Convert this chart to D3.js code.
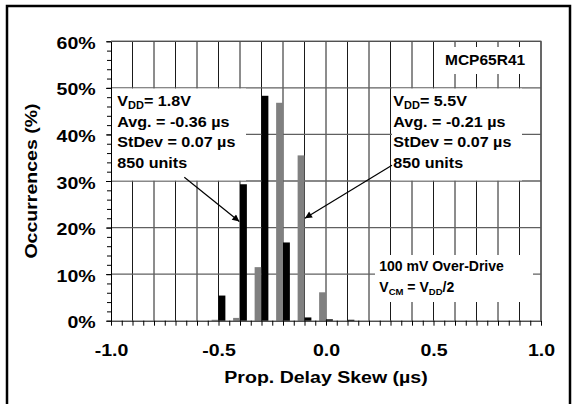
<!DOCTYPE html>
<html>
<head>
<meta charset="utf-8">
<script src="https://cdn.jsdelivr.net/npm/d3@7"></script>
<style>
    body { margin: 0; background: #fff; }
    text { font-family: "Liberation Sans", Arial, sans-serif; font-weight: bold; fill: #000; }
</style>
</head>
<body>
<div id="chart"></div>
<script>
// Prop. delay skew histogram, bins in µs, occurrences in %
const bins18 = [-0.5, -0.4, -0.3, -0.2, -0.1, 0.0, 0.1];
const occ18 = [5.4, 29.3, 48.3, 16.8, 0.7, 0.3, 0.2];
const bins55 = [-0.5, -0.4, -0.3, -0.2, -0.1, 0.0];
const occ55 = [0.2, 0.6, 11.5, 46.8, 35.5, 6.1];
const xTicks = [-1.0, -0.5, 0.0, 0.5, 1.0];
const yTicks = [0, 10, 20, 30, 40, 50, 60];

const note18 = [
    [['V', ''], ['DD', 'sub'], ['= 1.8V', '']],
    [['Avg. = -0.36 µs', '']],
    [['StDev = 0.07 µs', '']],
    [['850 units', '']]
];
const note55 = [
    [['V', ''], ['DD', 'sub'], ['= 5.5V', '']],
    [['Avg. = -0.21 µs', '']],
    [['StDev = 0.07 µs', '']],
    [['850 units', '']]
];
const noteDrive = [
    [['100 mV Over-Drive', '']],
    [['V', ''], ['CM', 'sub'], [' = V', ''], ['DD', 'sub'], ['/2', '']]
];

const W = 577, H = 404;
const svg = d3.select('#chart')
    .append('svg')
    .attr('width', W)
    .attr('height', H);

// outer frame (bottom edge runs off the picture)
svg.append('rect')
    .attr('x', 7).attr('y', 6)
    .attr('width', 563).attr('height', 430)
    .attr('fill', 'none')
    .attr('stroke', '#000')
    .attr('stroke-width', 2.5);

const x = d3.scaleLinear().domain([-1, 1]).range([111, 541]);
const y = d3.scaleLinear().domain([0, 60]).range([320.7, 41.3]);
const sx = 1.15; // labels in the source are a little wide

// grid
svg.append('g')
    .selectAll('line')
    .data(x.ticks(20).slice(1))
    .join('line')
    .attr('x1', d => x(d)).attr('x2', d => x(d))
    .attr('y1', y(60)).attr('y2', y(0))
    .attr('stroke', '#1a1a1a')
    .attr('stroke-width', 1);

svg.append('g')
    .selectAll('line')
    .data(y.ticks(6).slice(1))
    .join('line')
    .attr('x1', x(-1)).attr('x2', x(1))
    .attr('y1', d => y(d)).attr('y2', d => y(d))
    .attr('stroke', '#606060')
    .attr('stroke-width', 1.3);

// text boxes hide the grid behind them
function noteBox(x0, y0, w, h) {
    svg.append('rect')
        .attr('x', x0).attr('y', y0)
        .attr('width', w).attr('height', h)
        .attr('fill', '#fff');
}
noteBox(112, 88.5, 134, 92);
noteBox(392, 88.5, 130, 92);
noteBox(440, 47, 95, 27);
noteBox(375, 255, 158, 47);

// bars: 5.5V grey on the left of each bin, 1.8V black on the right
const bw = 0.032;
svg.append('g')
    .selectAll('rect')
    .data(bins55.map((b, i) => ({ bin: b, v: occ55[i] })))
    .join('rect')
    .attr('x', d => x(d.bin - bw))
    .attr('width', d => x(d.bin) - x(d.bin - bw))
    .attr('y', d => y(d.v))
    .attr('height', d => y(0) - y(d.v))
    .attr('fill', '#808080');

svg.append('g')
    .selectAll('rect')
    .data(bins18.map((b, i) => ({ bin: b, v: occ18[i] })))
    .join('rect')
    .attr('x', d => x(d.bin))
    .attr('width', d => x(d.bin + bw) - x(d.bin))
    .attr('y', d => y(d.v))
    .attr('height', d => y(0) - y(d.v))
    .attr('fill', '#000');

// axes
svg.append('g')
    .attr('transform', 'translate(0,' + y(0) + ')')
    .call(d3.axisBottom(x).tickValues(x.ticks(40)).tickSize(5).tickSizeOuter(0).tickFormat(''))
    .call(g => g.selectAll('line, path').attr('stroke', '#000'));

const xAxis = svg.append('g')
    .attr('transform', 'translate(0,' + y(0) + ')')
    .call(d3.axisBottom(x).tickValues(xTicks).tickSize(0).tickFormat(d => d.toFixed(1)));
xAxis.select('.domain').remove();
xAxis.selectAll('text')
    .attr('y', 35.3).attr('dy', 0)
    .attr('transform', 'scale(' + sx + ',1)')
    .style('font-size', '17px')
    .style('font-family', '"Liberation Sans", Arial, sans-serif')
    .style('font-weight', 'bold');

svg.append('g')
    .attr('transform', 'translate(' + x(-1) + ',0)')
    .call(d3.axisLeft(y).tickValues(y.ticks(30)).tickSize(4).tickSizeOuter(0).tickFormat(''))
    .call(g => g.selectAll('line, path').attr('stroke', '#000'));

const yAxis = svg.append('g')
    .attr('transform', 'translate(' + x(-1) + ',0)')
    .call(d3.axisLeft(y).tickValues(yTicks).tickSize(5).tickSizeOuter(0).tickFormat(d => d + '%'));
yAxis.select('.domain').remove();
yAxis.selectAll('line').attr('stroke', '#000');
yAxis.selectAll('text')
    .attr('x', -15.3 / sx).attr('dy', 0).attr('y', 7)
    .attr('transform', 'scale(' + sx + ',1)')
    .style('font-size', '17px')
    .style('font-family', '"Liberation Sans", Arial, sans-serif')
    .style('font-weight', 'bold');

// plot frame top and right
svg.append('path')
    .attr('d', 'M' + x(-1) + ',' + y(60) + 'H' + x(1) + 'V' + y(0))
    .attr('fill', 'none')
    .attr('stroke', '#505050')
    .attr('stroke-width', 1.2);

// axis titles
svg.append('text')
    .attr('transform', 'translate(36.5,' + ((y(0) + y(60)) / 2) + ') rotate(-90) scale(' + sx + ',1)')
    .attr('text-anchor', 'middle')
    .style('font-size', '17px')
    .text('Occurrences (%)');

svg.append('text')
    .attr('transform', 'translate(' + ((x(-1) + x(1)) / 2) + ',383) scale(' + sx + ',1)')
    .attr('text-anchor', 'middle')
    .style('font-size', '17px')
    .text('Prop. Delay Skew (µs)');

// notes
function note(lines, x0, y0, step, size, stretch) {
    const g = svg.append('g')
        .attr('transform', 'translate(' + x0 + ',' + y0 + ') scale(' + stretch + ',1)');
    lines.forEach((parts, i) => {
        const t = g.append('text')
            .attr('x', 0)
            .attr('y', i * step)
            .style('font-size', size + 'px');
        let shifted = false;
        parts.forEach(p => {
            const sub = p[1] === 'sub';
            let dy = 0;
            if (sub && !shifted) dy = 2.5;
            if (!sub && shifted) dy = -2.5;
            shifted = sub;
            t.append('tspan')
                .attr('dy', dy)
                .style('font-size', (sub ? size * 0.68 : size) + 'px')
                .text(p[0]);
        });
    });
}
note(note18, 117.3, 106, 20.6, 15.5, 1.04);
note(note55, 393.3, 106, 20.6, 15.5, 1.04);
note(noteDrive, 379.3, 270.7, 21.6, 14, 1.0);

svg.append('text')
    .attr('x', 445).attr('y', 64.5)
    .style('font-size', '15.5px')
    .text('MCP65R41');

// arrows from the notes to their distributions
svg.append('defs')
    .append('marker')
    .attr('id', 'head')
    .attr('viewBox', '0 0 10 10')
    .attr('refX', 10).attr('refY', 5)
    .attr('markerWidth', 9).attr('markerHeight', 7)
    .attr('markerUnits', 'userSpaceOnUse')
    .attr('orient', 'auto')
    .append('path')
    .attr('d', 'M0,0L10,5L0,10Z')
    .attr('fill', '#000');

const arrows = [
    { from: [-0.659, 30.8], to: [-0.403, 21.3] },
    { from: [0.307, 33.4], to: [-0.098, 22.0] }
];
svg.append('g')
    .selectAll('line')
    .data(arrows)
    .join('line')
    .attr('x1', d => x(d.from[0])).attr('y1', d => y(d.from[1]))
    .attr('x2', d => x(d.to[0])).attr('y2', d => y(d.to[1]))
    .attr('stroke', '#000')
    .attr('stroke-width', 1.2)
    .attr('marker-end', 'url(#head)');
</script>
</body>
</html>
